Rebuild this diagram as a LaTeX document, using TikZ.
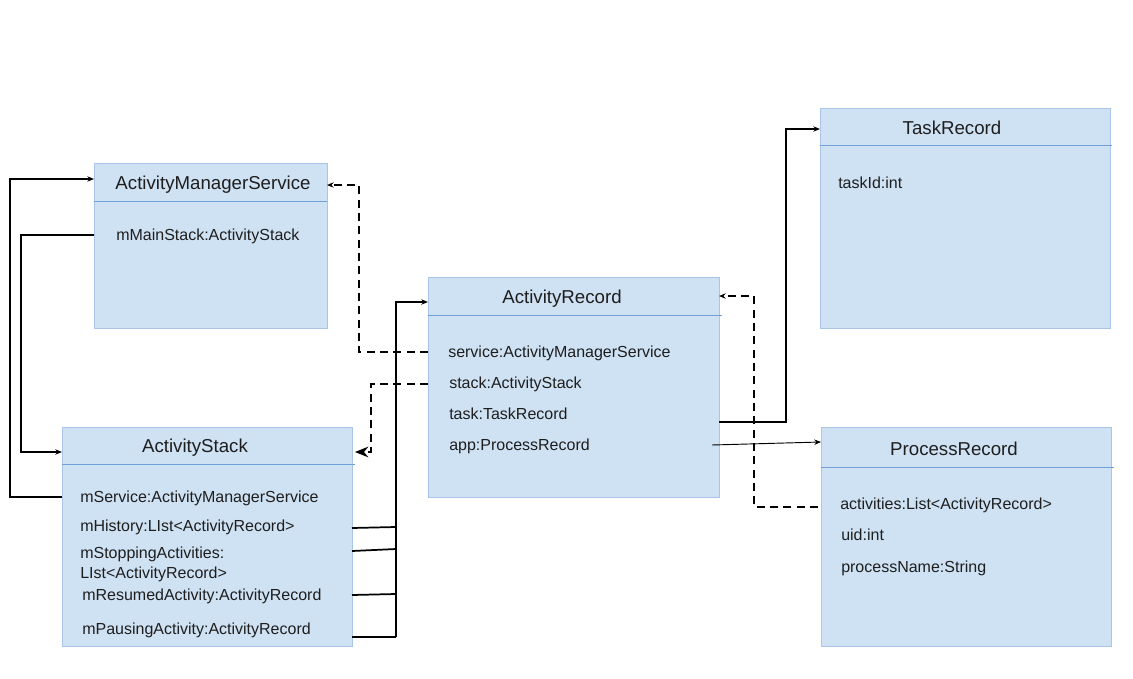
\documentclass[tikz,border=0pt]{standalone}
\usepackage{fontspec}
\setmainfont{Liberation Sans}
\usetikzlibrary{arrows.meta}
\definecolor{boxfill}{HTML}{CFE2F3}
\definecolor{boxline}{HTML}{A9C6E8}
\definecolor{hdrline}{HTML}{6FA0DA}
\definecolor{txt}{HTML}{1E1E1E}
\begin{document}
\begin{tikzpicture}[x=0.75pt,y=-0.75pt,
  cls/.style={draw=boxline, fill=boxfill, line width=0.6pt, inner sep=0pt, outer sep=0pt},
  title/.style={font=\fontsize{14}{16}\selectfont, text=txt, inner sep=0pt, text height=10pt, text depth=3pt, yshift=-0.5pt},
  item/.style={font=\fontsize{12}{15}\selectfont, text=txt, inner sep=0pt, anchor=west, align=left, yshift=-1.2pt},
  row/.style={item, text height=8.6pt, text depth=2.6pt},
  hdr/.style={draw=hdrline, line width=0.6pt},
  link/.style={draw=black, line width=1.3pt},
  conn/.style={link, -{Stealth[length=5pt,width=4pt]}},
  dconn/.style={link, dash pattern=on 6pt off 4pt, -{Stealth[length=5pt,width=4pt]}},
  bigdconn/.style={link, dash pattern=on 6pt off 4pt, -{Stealth[length=10pt,width=8pt]}},
  thinconn/.style={draw=black, line width=0.7pt, -{Stealth[length=5pt,width=4pt]}}]
\useasboundingbox[fill=white] (0,0) rectangle (1133,679);

% boxes
\node[cls, minimum width=174.75pt, minimum height=123.75pt] (ams) at (210.5,245.5) {};
\node[cls, minimum width=217.5pt, minimum height=164.25pt] (ast) at (207,536.5) {};
\node[cls, minimum width=218.25pt, minimum height=165pt] (ar) at (573.5,387) {};
\node[cls, minimum width=217.5pt, minimum height=165pt] (tr) at (965,218) {};
\node[cls, minimum width=217.5pt, minimum height=164.25pt] (pr) at (966,536.5) {};

% header lines
\draw[hdr] (ams.west |- 0,201) -- (ams.east |- 0,201);
\draw[hdr] (ast.west |- 0,464) -- (355,464);
\draw[hdr] (ar.west |- 0,315) -- (722,315);
\draw[hdr] (tr.west |- 0,145) -- (1112,145);
\draw[hdr] (pr.west |- 0,467) -- (1114,467);

% titles
\node[title] (amsT) at (213,184) {ActivityManagerService};
\node[title] (astT) at (195,447) {ActivityStack};
\node[title] (arT) at (562,298) {ActivityRecord};
\node[title] (trT) at (952,129) {TaskRecord};
\node[title] (prT) at (954,450) {ProcessRecord};

% items
\node[row] (amsMain) at (116,235) {mMainStack:ActivityStack};

\node[row] (astSvc) at (80,497) {mService:ActivityManagerService};
\node[row] (astHist) at (80,526) {mHistory:LIst<ActivityRecord>};
\node[item] (astStop) at (80,563) {mStoppingActivities:\\LIst<ActivityRecord>};
\node[row] (astRes) at (82,595) {mResumedActivity:ActivityRecord};
\node[row] (astPau) at (82,629) {mPausingActivity:ActivityRecord};

\node[row] (arSvc) at (448,352) {service:ActivityManagerService};
\node[row] (arStack) at (449,383) {stack:ActivityStack};
\node[row] (arTask) at (449,414) {task:TaskRecord};
\node[row] (arApp) at (449,445) {app:ProcessRecord};

\node[row] (trId) at (838,183) {taskId:int};

\node[row] (prAct) at (840,504) {activities:List<ActivityRecord>};
\node[row] (prUid) at (841,535) {uid:int};
\node[row] (prName) at (841,567) {processName:String};

% connectors
\draw[conn] (ast.west |- 0,497) -- ++(-52,0) |- (ams.west |- 0,179);
\draw[conn] (ams.west |- 0,235) -- ++(-73,0) |- (ast.west |- 0,452);
\draw[dconn] (ar.west |- 0,352) -- ++(-69,0) |- (ams.east |- 0,185);
\draw[bigdconn] (ar.west |- 0,384) -- ++(-57,0) |- (355,452);

\coordinate (bus) at (396,637);
\draw[link] (ast.east |- 0,637) -- (bus);
\draw[link] (ast.east |- 0,528) -- (bus |- 0,527);
\draw[link] (ast.east |- 0,551) -- (bus |- 0,549);
\draw[link] (ast.east |- 0,595) -- (bus |- 0,594);
\draw[conn] (bus) |- (ar.west |- 0,302);

\draw[conn] (ar.east |- 0,422) -- ++(67,0) |- (tr.west |- 0,129);
\coordinate (appStart) at (712,445);
\draw[thinconn] (appStart) -- (pr.west |- 0,442);
\draw[dconn] (818,507) -- (754,507) |- (ar.east |- 0,296);
\end{tikzpicture}
\end{document}
